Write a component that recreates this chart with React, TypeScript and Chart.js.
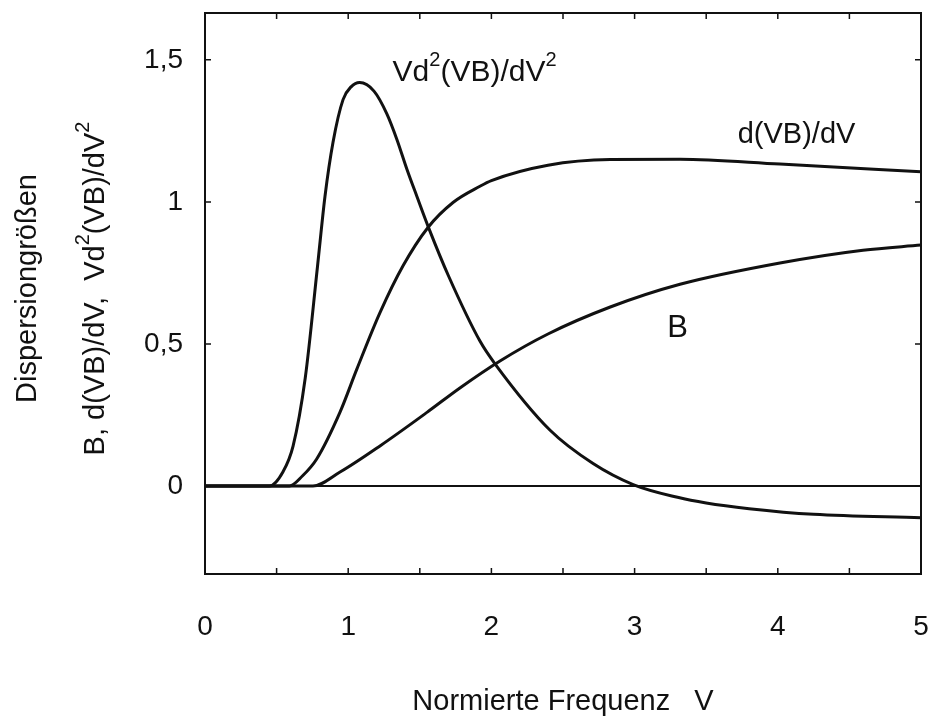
import React, { useEffect, useRef } from 'react';
import { Chart, registerables } from 'chart.js';

Chart.register(...registerables);

// Normierte Frequenz V (x positions of the read points) and values
const d2V = [0, 0.45, 0.545, 0.615, 0.7, 0.785, 0.838, 0.894, 0.964, 1.02, 1.08, 1.18, 1.27, 1.34, 1.41, 1.48, 1.564, 1.7, 1.92, 2.025, 2.41, 2.71, 2.99, 3.3, 3.5, 3.8, 4.25, 5];
const d2Values = [0, 0, 0.05, 0.14, 0.38, 0.77, 1.02, 1.21, 1.36, 1.405, 1.42, 1.39, 1.31, 1.22, 1.115, 1.019, 0.906, 0.74, 0.51, 0.43, 0.196, 0.079, 0.005, -0.04, -0.06, -0.08, -0.1, -0.112];

const d1V = [0, 0.59, 0.68, 0.78, 0.943, 1.061, 1.222, 1.383, 1.557, 1.732, 1.92, 2.0, 2.395, 2.83, 3.317, 4.015, 5];
const d1Values = [0, 0, 0.035, 0.095, 0.26, 0.412, 0.61, 0.775, 0.91, 0.998, 1.055, 1.075, 1.129, 1.149, 1.15, 1.133, 1.106];

const bV = [0, 0.754, 0.943, 1.222, 1.55, 1.78, 2.06, 2.395, 2.83, 3.317, 4.015, 4.595, 5];
const bValues = [0, 0, 0.049, 0.141, 0.259, 0.345, 0.44, 0.535, 0.63, 0.71, 0.785, 0.83, 0.848];

const zeroV = [0, 5];
const zeroValues = [0, 0];

const xTickValues = [0, 1, 2, 3, 4, 5];
const yTickValues = [0, 0.5, 1, 1.5];
const minorXTicks = [0.5, 1, 1.5, 2, 2.5, 3, 3.5, 4, 4.5];

// text runs: [text, isSuperscript]
type Run = [string, boolean];
const labelD2: Run[] = [['Vd', false], ['2', true], ['(VB)/dV', false], ['2', true]];
const labelD1: Run[] = [['d(VB)/dV', false]];
const labelB: Run[] = [['B', false]];
const yTitleLine1: Run[] = [['Dispersiongrößen', false]];
const yTitleLine2: Run[] = [['B, d(VB)/dV,  Vd', false], ['2', true], ['(VB)/dV', false], ['2', true]];
const xTitle = 'Normierte Frequenz   V';

const FONT = "'Liberation Sans', Arial, sans-serif";
const INK = '#111';

const toPoints = (xs: number[], ys: number[]) => xs.map((x, i) => ({ x, y: ys[i] }));

function runsWidth(ctx: CanvasRenderingContext2D, runs: Run[], size: number) {
  let w = 0;
  for (const [t, sup] of runs) {
    ctx.font = `${sup ? Math.round(size * 0.68) : size}px ${FONT}`;
    w += ctx.measureText(t).width;
  }
  return w;
}

// draws runs starting at x (left), baseline 'middle' at y
function drawRuns(ctx: CanvasRenderingContext2D, runs: Run[], x: number, y: number, size: number) {
  ctx.textBaseline = 'middle';
  ctx.textAlign = 'left';
  let cx = x;
  for (const [t, sup] of runs) {
    const s = sup ? Math.round(size * 0.68) : size;
    ctx.font = `${s}px ${FONT}`;
    ctx.fillText(t, cx, sup ? y - size * 0.42 : y);
    cx += ctx.measureText(t).width;
  }
}

const framePlugin = {
  id: 'frame',
  afterDatasetsDraw(chart: any) {
    const { ctx, chartArea: a, scales } = chart;
    const xs = scales.x;
    const ys = scales.y;
    ctx.save();
    ctx.strokeStyle = INK;
    ctx.lineWidth = 2;
    ctx.strokeRect(a.left, a.top, a.right - a.left, a.bottom - a.top);
    ctx.lineWidth = 1.5;
    const tl = 6;
    ctx.beginPath();
    for (const v of yTickValues) {
      const py = ys.getPixelForValue(v);
      ctx.moveTo(a.left, py);
      ctx.lineTo(a.left + tl, py);
      ctx.moveTo(a.right, py);
      ctx.lineTo(a.right - tl, py);
    }
    for (const v of minorXTicks) {
      const px = xs.getPixelForValue(v);
      ctx.moveTo(px, a.bottom);
      ctx.lineTo(px, a.bottom - tl);
      ctx.moveTo(px, a.top);
      ctx.lineTo(px, a.top + tl);
    }
    ctx.stroke();

    ctx.fillStyle = INK;
    // curve labels
    drawRuns(ctx, labelD2, xs.getPixelForValue(1.31), ys.getPixelForValue(1.455), 30);
    drawRuns(ctx, labelD1, xs.getPixelForValue(3.72), ys.getPixelForValue(1.236), 29);
    const bw = runsWidth(ctx, labelB, 31);
    drawRuns(ctx, labelB, xs.getPixelForValue(3.3) - bw / 2, ys.getPixelForValue(0.556), 31);

    // y-axis title (two rotated lines)
    const midY = (a.top + a.bottom) / 2 - 5;
    const lines: [Run[], number][] = [[yTitleLine1, 28], [yTitleLine2, 96]];
    for (const [runs, cx] of lines) {
      const w = runsWidth(ctx, runs, 29);
      ctx.save();
      ctx.translate(cx, midY);
      ctx.rotate(-Math.PI / 2);
      drawRuns(ctx, runs, -w / 2, 0, 29);
      ctx.restore();
    }
    ctx.restore();
  },
};

export default function App() {
  const canvasRef = useRef<HTMLCanvasElement | null>(null);

  useEffect(() => {
    if (!canvasRef.current) return;
    const line = (data: { x: number; y: number }[], width: number) => ({
      data,
      borderColor: INK,
      borderWidth: width,
      pointRadius: 0,
      fill: false,
      cubicInterpolationMode: 'monotone' as const,
    });
    const chart = new Chart(canvasRef.current, {
      type: 'line',
      data: {
        datasets: [
          line(toPoints(zeroV, zeroValues), 2),
          line(toPoints(d2V, d2Values), 3),
          line(toPoints(d1V, d1Values), 3),
          line(toPoints(bV, bValues), 3),
        ],
      },
      options: {
        animation: false,
        responsive: true,
        maintainAspectRatio: false,
        layout: { padding: { left: 0, right: 15, top: 13, bottom: 0 } },
        plugins: { legend: { display: false }, tooltip: { enabled: false } },
        scales: {
          x: {
            type: 'linear',
            min: 0,
            max: 5,
            grid: { display: false, drawTicks: false },
            border: { display: false },
            afterBuildTicks: (s: any) => {
              s.ticks = xTickValues.map((value) => ({ value }));
            },
            afterFit: (s: any) => {
              s.height = 142;
              s.paddingLeft = 0;
              s.paddingRight = 0;
            },
            ticks: {
              color: INK,
              padding: 36,
              font: { family: FONT, size: 28 },
              callback: (v: any) => String(v),
            },
            title: {
              display: true,
              text: xTitle,
              color: INK,
              font: { family: FONT, size: 29, lineHeight: 1 },
              padding: { top: 0, bottom: 0 },
            },
          },
          y: {
            type: 'linear',
            min: -0.31,
            max: 1.665,
            grid: { display: false, drawTicks: false },
            border: { display: false },
            afterBuildTicks: (s: any) => {
              s.ticks = yTickValues.map((value) => ({ value }));
            },
            afterFit: (s: any) => {
              s.width = 205;
              s.paddingTop = 0;
              s.paddingBottom = 0;
            },
            ticks: {
              color: INK,
              padding: 22,
              font: { family: FONT, size: 28 },
              callback: (v: any) => String(v).replace('.', ','),
            },
          },
        },
      },
      plugins: [framePlugin],
    } as any);
    return () => chart.destroy();
  }, []);

  return (
    <div style={{ position: 'fixed', left: 0, top: 0, width: 936, height: 716, background: '#fff' }}>
      <canvas ref={canvasRef} />
    </div>
  );
}
